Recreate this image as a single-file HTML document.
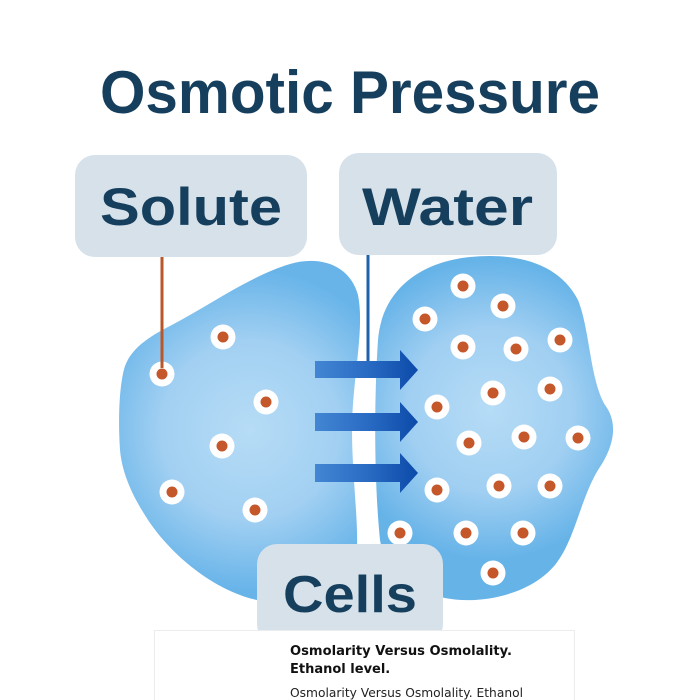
<!DOCTYPE html>
<html><head><meta charset="utf-8"><style>
html,body{margin:0;padding:0;background:#fff;}
svg{display:block;}
</style></head><body>
<svg width="700" height="700" viewBox="0 0 700 700" xmlns="http://www.w3.org/2000/svg">
<defs>
<radialGradient id="gl" cx="250" cy="430" r="160" gradientUnits="userSpaceOnUse">
<stop offset="0" stop-color="#b6dcf6"/><stop offset="0.55" stop-color="#a2d0f2"/><stop offset="1" stop-color="#68b4e9"/>
</radialGradient>
<radialGradient id="gr" cx="490" cy="410" r="150" gradientUnits="userSpaceOnUse">
<stop offset="0" stop-color="#b6dcf6"/><stop offset="0.55" stop-color="#a0cff2"/><stop offset="1" stop-color="#66b3e8"/>
</radialGradient>
<linearGradient id="ga" x1="315" y1="0" x2="418" y2="0" gradientUnits="userSpaceOnUse">
<stop offset="0" stop-color="#4386d3"/><stop offset="0.5" stop-color="#2a6cc4"/><stop offset="1" stop-color="#0c4aa9"/>
</linearGradient>
</defs>
<rect width="700" height="700" fill="#fff"/>

<!-- blobs -->
<path d="M120,450 C118,420 119,385 125,366 C131,350 146,338 170,326 C210,305 250,276 290,264 C320,255 350,265 358,295 C365,330 352,380 352,430 C352,480 360,530 356,560 C350,600 300,610 257,600 C215,591 172,556 148,520 C131,494 122,472 120,450 Z" fill="url(#gl)"/>
<path d="M380,540 C374,480 374,400 378,340 C382,290 420,262 470,257 C520,252 560,265 578,300 C590,330 590,380 605,405 C620,425 612,450 598,470 C580,500 575,540 555,565 C530,595 480,605 445,598 C410,590 385,570 380,540 Z" fill="url(#gr)"/>

<!-- dots -->
<g fill="#fff">
<circle cx="223" cy="337" r="12.5"/><circle cx="162" cy="374" r="12.5"/><circle cx="266" cy="402" r="12.5"/>
<circle cx="222" cy="446" r="12.5"/><circle cx="172" cy="492" r="12.5"/><circle cx="255" cy="510" r="12.5"/>
<circle cx="463" cy="286" r="12.5"/><circle cx="503" cy="306" r="12.5"/><circle cx="425" cy="319" r="12.5"/>
<circle cx="560" cy="340" r="12.5"/><circle cx="463" cy="347" r="12.5"/><circle cx="516" cy="349" r="12.5"/>
<circle cx="493" cy="393" r="12.5"/><circle cx="550" cy="389" r="12.5"/><circle cx="437" cy="407" r="12.5"/>
<circle cx="524" cy="437" r="12.5"/><circle cx="578" cy="438" r="12.5"/><circle cx="469" cy="443" r="12.5"/>
<circle cx="499" cy="486" r="12.5"/><circle cx="550" cy="486" r="12.5"/><circle cx="437" cy="490" r="12.5"/>
<circle cx="400" cy="533" r="12.5"/><circle cx="466" cy="533" r="12.5"/><circle cx="523" cy="533" r="12.5"/>
<circle cx="493" cy="573" r="12.5"/>
</g>
<g fill="#c5582b">
<circle cx="223" cy="337" r="5.5"/><circle cx="162" cy="374" r="5.5"/><circle cx="266" cy="402" r="5.5"/>
<circle cx="222" cy="446" r="5.5"/><circle cx="172" cy="492" r="5.5"/><circle cx="255" cy="510" r="5.5"/>
<circle cx="463" cy="286" r="5.5"/><circle cx="503" cy="306" r="5.5"/><circle cx="425" cy="319" r="5.5"/>
<circle cx="560" cy="340" r="5.5"/><circle cx="463" cy="347" r="5.5"/><circle cx="516" cy="349" r="5.5"/>
<circle cx="493" cy="393" r="5.5"/><circle cx="550" cy="389" r="5.5"/><circle cx="437" cy="407" r="5.5"/>
<circle cx="524" cy="437" r="5.5"/><circle cx="578" cy="438" r="5.5"/><circle cx="469" cy="443" r="5.5"/>
<circle cx="499" cy="486" r="5.5"/><circle cx="550" cy="486" r="5.5"/><circle cx="437" cy="490" r="5.5"/>
<circle cx="400" cy="533" r="5.5"/><circle cx="466" cy="533" r="5.5"/><circle cx="523" cy="533" r="5.5"/>
<circle cx="493" cy="573" r="5.5"/>
</g>

<!-- connector lines -->
<line x1="162" y1="256" x2="162" y2="368" stroke="#b9572b" stroke-width="3"/>
<line x1="368" y1="254" x2="368" y2="362" stroke="#1e62ad" stroke-width="3"/>

<!-- arrows -->
<g fill="url(#ga)">
<path d="M315,361 H400 V350 L418,370 L400,390 V378 H315 Z"/>
<path d="M315,413 H400 V402 L418,422 L400,442 V431 H315 Z"/>
<path d="M315,464 H400 V453 L418,473 L400,493 V482 H315 Z"/>
</g>

<!-- label boxes -->
<rect x="75" y="155" width="232" height="102" rx="20" fill="#d6e1ea"/>
<rect x="339" y="153" width="218" height="102" rx="20" fill="#d6e1ea"/>
<rect x="257" y="544" width="186" height="100" rx="20" fill="#d6e1ea"/>

<g font-family="Liberation Sans, sans-serif" font-weight="bold" fill="#163f5e">
<text x="100" y="113" font-size="60" textLength="500" lengthAdjust="spacingAndGlyphs">Osmotic Pressure</text>
<text x="100" y="225" font-size="53" textLength="182" lengthAdjust="spacingAndGlyphs">Solute</text>
<text x="362" y="225" font-size="53" textLength="171" lengthAdjust="spacingAndGlyphs">Water</text>
<text x="283" y="612" font-size="52" textLength="134" lengthAdjust="spacingAndGlyphs">Cells</text>
</g>

<!-- bottom panel -->
<rect x="154.5" y="630.5" width="420" height="90" fill="#fff" stroke="#ececec" stroke-width="1"/>
<g font-family="DejaVu Sans, Liberation Sans, sans-serif" fill="#111">
<text x="290" y="655" font-size="13" font-weight="bold" textLength="222" lengthAdjust="spacingAndGlyphs">Osmolarity Versus Osmolality.</text>
<text x="290" y="673" font-size="13" font-weight="bold">Ethanol level.</text>
<text x="290" y="697" font-size="12.5" fill="#222" textLength="233" lengthAdjust="spacingAndGlyphs">Osmolarity Versus Osmolality. Ethanol</text>
</g>
</svg>
</body></html>
